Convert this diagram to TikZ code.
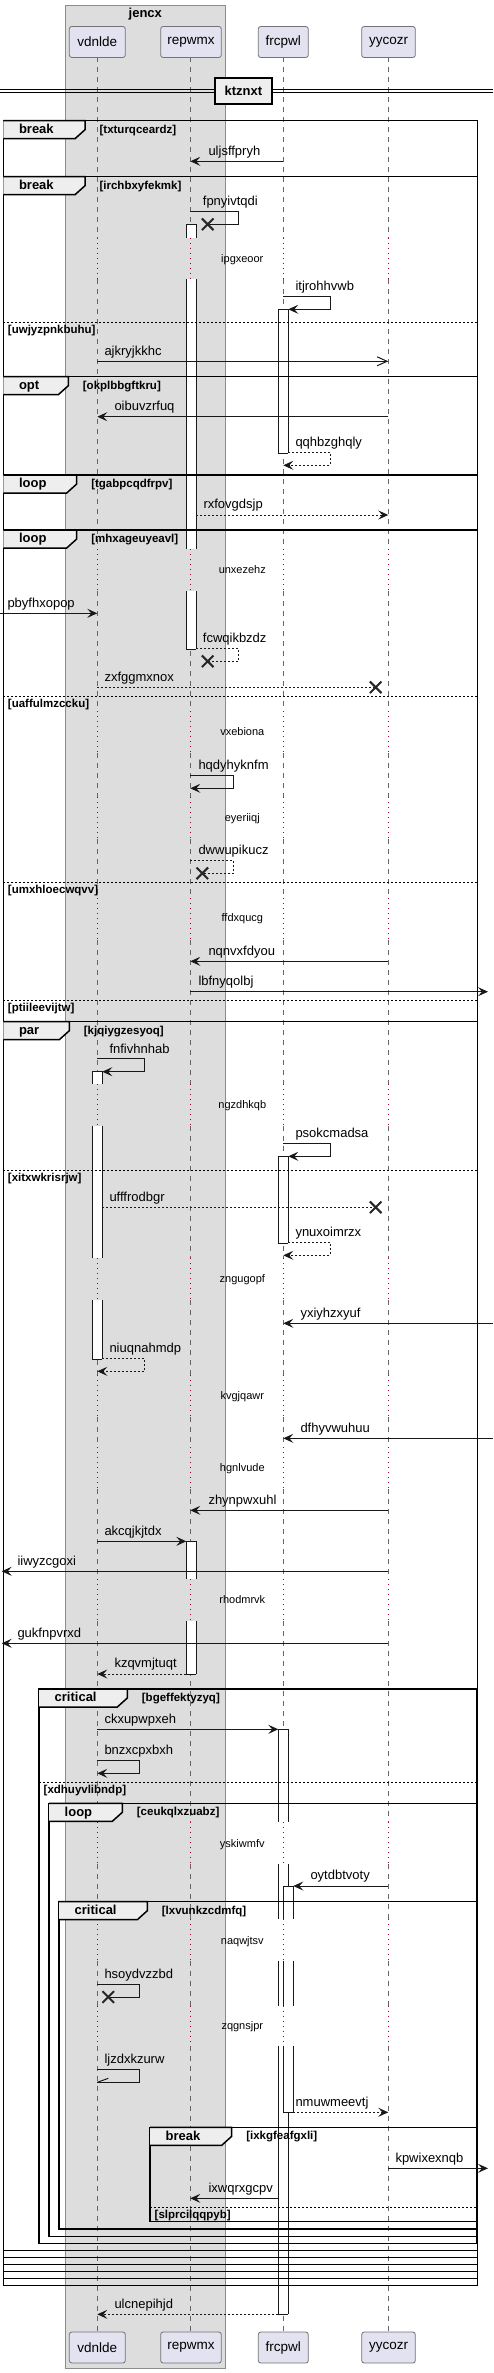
\documentclass[tikz,border=0pt]{standalone}
\usepackage{fontspec}
\setmainfont{Liberation Sans}
\usetikzlibrary{arrows.meta}
\definecolor{pfill}{HTML}{E2E2F0}
\definecolor{boxfill}{HTML}{DDDDDD}
\definecolor{tabfill}{HTML}{EEEEEE}
\definecolor{lc}{HTML}{181818}
\definecolor{dly}{HTML}{A80036}
\tikzset{
 pbox/.style={draw=black!55, line width=0.8pt, fill=pfill, rounded corners=2.5pt, inner sep=0pt, font=\fontsize{13.5}{16}\selectfont, minimum height=31pt},
 life/.style={draw=black!60, line width=0.8pt, dash pattern=on 5pt off 5pt},
 dlife/.style={draw=dly, line width=1pt, dash pattern=on 1pt off 4pt},
 actline/.style={draw=lc, line width=1pt},
 msglbl/.style={anchor=west, inner sep=0pt, font=\fontsize{13}{15}\selectfont, text height=9.5pt, text depth=2.7pt},
 dlbl/.style={inner sep=0pt, font=\fontsize{11}{13}\selectfont, text height=8pt, text depth=2.2pt},
 flbl/.style={anchor=west, inner sep=0pt, font=\bfseries\fontsize{13}{15}\selectfont, text height=9.5pt, text depth=2.7pt},
 glbl/.style={anchor=west, inner sep=0pt, font=\bfseries\fontsize{11.5}{13}\selectfont, text height=8.5pt, text depth=2.4pt},
 frm/.style={draw=black, line width=1.5pt},
 sepline/.style={draw=black, line width=1pt, dash pattern=on 2pt off 2pt},
 tabst/.style={draw=black, line width=1.5pt, fill=tabfill},
 sarr/.style={draw=lc, line width=1pt, -{Stealth[length=10pt,width=9pt,inset=4pt]}},
 darr/.style={sarr, dash pattern=on 2pt off 2pt},
 oarr/.style={draw=lc, line width=1pt, -{Straight Barb[length=10pt,width=9pt]}},
 sln/.style={draw=lc, line width=1pt},
 dln/.style={sln, dash pattern=on 2pt off 2pt},
 xmk/.style={draw=black!85, line width=2pt},
}
\newcommand{\Msg}[7]{%
  \coordinate (#1s) at (#2,#4);
  \coordinate (#1e) at (#3,#4);
  \draw[#5] (#1s) -- (#1e);
  \node[msglbl] (#1l) at (#6,#4-9.6) {#7};}
\newcommand{\SelfMsg}[8]{%
  \coordinate (#1s) at (#2,#4);
  \coordinate (#1e) at (#5,#4+13);
  \draw[#6] (#1s) -- (#3,#4) -- (#3,#4+13) -- (#1e);
  \node[msglbl] (#1l) at (#7,#4-9) {#8};}
\newcommand{\Xmk}[2]{\draw[xmk] (#1-5.8,#2-5.8) -- (#1+5.8,#2+5.8) (#1-5.8,#2+5.8) -- (#1+5.8,#2-5.8);}
\newcommand{\Act}[5]{%
  \fill[white] (#1,#2) rectangle (#1+10,#3);
  \draw[actline] (#1,#2) -- (#1,#3) (#1+10,#2) -- (#1+10,#3);
  \ifnum#4=1 \draw[actline] (#1,#2) -- (#1+10,#2);\fi
  \ifnum#5=1 \draw[actline] (#1,#3) -- (#1+10,#3);\fi}
\newcommand{\FrameTab}[6]{%
  \draw[tabst] (#2,#3) -- (#4,#3) -- (#4,#3+9) -- (#4-10,#3+18) -- (#2,#3+18);
  \node[flbl] (#1a) at (#2+15.5,#3+9.5) {#5};
  \node[glbl] (#1b) at (#4+14.4,#3+9.3) {#6};}
\newcommand{\SepLine}[5]{%
  \draw[sepline] (#2,#4) -- (#3,#4);
  \node[glbl] (#1) at (#2+4.5,#4+8) {#5};}
\begin{document}
\begin{tikzpicture}[x=1pt,y=-1pt]
\useasboundingbox (0,0) rectangle (493,2373);
\fill[white] (0,0) rectangle (493,2373);
% group box
\draw[fill=boxfill, draw=black!45, line width=1pt] (65.3,6) rectangle (225.3,2368.3);
\node[inner sep=0pt, font=\bfseries\fontsize{13}{15}\selectfont, text height=9.5pt, text depth=2.7pt] (jt) at (145.3,13.7) {jencx};
% lifelines
\foreach \lx in {97.3,190.3,283.3,388.3} {
  \foreach \ya/\yb in {57.3/237.7, 279/549.3, 591/711.3, 753.3/797.3, 839.3/898, 940/1084.3, 1125.7/1258.3, 1300/1375.3, 1417.3/1447.3, 1489.3/1579.3, 1621/1822.3, 1864.3/1919.3, 1960.7/2005.7, 2045.7/2331.7}
    \draw[life] (\lx,\ya) -- (\lx,\yb);
  \foreach \ya/\yb in {237.7/279, 549.3/591, 711.3/753.3, 797.3/839.3, 898/940, 1084.3/1125.7, 1258.3/1300, 1375.3/1417.3, 1447.3/1489.3, 1579.3/1621, 1822.3/1864.3, 1919.3/1960.7, 2005.7/2045.7}
    \draw[dlife] (\lx,\ya) -- (\lx,\yb);
}
% divider
\draw[line width=1pt] (0,90) -- (493,90) (0,92.7) -- (493,92.7);
\node[draw=black, line width=2pt, fill=tabfill, minimum width=56.7pt, minimum height=25.7pt, inner sep=0pt, font=\bfseries\fontsize{13}{15}\selectfont] (dv) at (243.3,91.2) {ktznxt};
% activations
\Act{186.3}{224.3}{237.7}{1}{0}
\Act{186.3}{279}{549.3}{0}{0}
\Act{186.3}{591}{649.3}{0}{1}
\Act{186.3}{1541.3}{1579.3}{1}{0}
\Act{186.3}{1621}{1674}{0}{1}
\Act{278.3}{309.3}{453.3}{1}{1}
\Act{278.3}{1156.3}{1243.3}{1}{1}
\Act{278.3}{1729.3}{1822.3}{1}{0}
\Act{278.3}{1864.3}{1919.3}{0}{0}
\Act{278.3}{1960.7}{2005.7}{0}{0}
\Act{278.3}{2045.7}{2314.3}{0}{1}
\Act{283.3}{1886}{1919.3}{1}{0}
\Act{283.3}{1960.7}{2005.7}{0}{0}
\Act{283.3}{2045.7}{2112.3}{0}{1}
\Act{92.3}{1071.3}{1084.3}{1}{0}
\Act{92.3}{1125.7}{1258.3}{0}{0}
\Act{92.3}{1300}{1359.3}{0}{1}
% frames
\draw[frm] (3.3,120.7) rectangle (477.7,2285.7);
\draw[frm] (3.3,176.7) rectangle (477.7,2278.7);
\draw[frm] (3.3,376.7) rectangle (477.7,2271.7);
\draw[frm] (3.3,475) rectangle (477.7,2264.7);
\draw[frm] (3.3,530) rectangle (477.7,2257.7);
\draw[frm] (3.3,1021.7) rectangle (477.7,2250.7);
\draw[frm] (39,1689) rectangle (476.7,2243.3);
\draw[frm] (49,1803.3) rectangle (476.7,2236.3);
\draw[frm] (59,1901.7) rectangle (476.7,2229);
\draw[frm] (150,2127.3) rectangle (476.7,2221.7);
\FrameTab{f1}{3.3}{120.7}{85}{break}{[txturqceardz]}
\FrameTab{f2}{3.3}{176.7}{85}{break}{[irchbxyfekmk]}
\FrameTab{f3}{3.3}{376.7}{68.3}{opt}{[okplbbgftkru]}
\FrameTab{f4}{3.3}{475}{76.7}{loop}{[tgabpcqdfrpv]}
\FrameTab{f5}{3.3}{530}{76.7}{loop}{[mhxageuyeavl]}
\FrameTab{f6}{3.3}{1021.7}{69.3}{par}{[kjqiygzesyoq]}
\FrameTab{f7}{39}{1689}{127.3}{critical}{[bgeffektyzyq]}
\FrameTab{f8}{49}{1803.3}{122.3}{loop}{[ceukqlxzuabz]}
\FrameTab{f9}{59}{1901.7}{147.3}{critical}{[lxvunkzcdmfq]}
\FrameTab{f10}{150}{2127.3}{231.7}{break}{[ixkgfeafgxli]}
\SepLine{s1}{3.3}{477.7}{322.7}{[uwjyzpnkbuhu]}
\SepLine{s2}{3.3}{477.7}{696}{[uaffulmzccku]}
\SepLine{s3}{3.3}{477.7}{882.3}{[umxhloecwqvv]}
\SepLine{s4}{3.3}{477.7}{1000.3}{[ptiileevijtw]}
\SepLine{s5}{3.3}{477.7}{1170.3}{[xitxwkrisrjw]}
\SepLine{s6}{39}{476.7}{1782.3}{[xdhuyvlibndp]}
\SepLine{s7}{150}{476.7}{2207.3}{[slprcilqqpyb]}
% messages
\Msg{m1}{283.3}{190.3}{161.3}{sarr}{208.3}{uljsffpryh}
\SelfMsg{m2}{190.3}{238.7}{211.3}{207.7}{sln}{202.7}{fpnyivtqdi}
\Xmk{207.7}{224.3}
\SelfMsg{m3}{283.3}{330.3}{296.3}{288.3}{sarr}{295.3}{itjrohhvwb}
\Msg{m4}{97.3}{388.3}{361.3}{oarr}{104.3}{ajkryjkkhc}
\Msg{m5}{388.3}{97.3}{416.7}{sarr}{114.3}{oibuvzrfuq}
\SelfMsg{m6}{288.3}{330.3}{452.3}{283.3}{darr}{295.3}{qqhbzghqly}
\Msg{m7}{196.3}{388.3}{515}{darr}{203.3}{rxfovgdsjp}
\Msg{m8}{0}{97.3}{613.3}{sarr}{7.3}{pbyfhxopop}
\SelfMsg{m9}{196.3}{238.7}{648.3}{207.7}{dln}{202.7}{fcwqikbzdz}
\Xmk{207.7}{661.3}
\Msg{m10}{97.3}{375.7}{687.3}{dln}{104.3}{zxfggmxnox}
\Xmk{375.7}{687.3}
\SelfMsg{m11}{190.3}{233.7}{775.3}{190.3}{sarr}{198.3}{hqdyhyknfm}
\SelfMsg{m12}{190.3}{233.7}{860.3}{202.3}{dln}{198.3}{dwwupikucz}
\Xmk{202.3}{873.3}
\Msg{m13}{388.3}{190.3}{961.3}{sarr}{208.3}{nqnvxfdyou}
\Msg{m14}{190.3}{488}{991.7}{sarr}{198.3}{lbfnyqolbj}
\SelfMsg{m15}{97.3}{144.7}{1058.7}{102.3}{sarr}{109.3}{fnfivhnhab}
\SelfMsg{m16}{283.3}{330.3}{1143.3}{288.3}{sarr}{295.3}{psokcmadsa}
\Msg{m17}{102.3}{375.7}{1207.3}{dln}{109.3}{ufffrodbgr}
\Xmk{375.7}{1207.3}
\SelfMsg{m18}{288.3}{330.3}{1242.3}{283.3}{darr}{295.3}{ynuxoimrzx}
\Msg{m19}{493}{283.3}{1323.3}{sarr}{300.3}{yxiyhzxyuf}
\SelfMsg{m20}{102.3}{144.7}{1358.3}{97.3}{darr}{109.3}{niuqnahmdp}
\Msg{m21}{493}{283.3}{1438.3}{sarr}{300.3}{dfhyvwuhuu}
\Msg{m22}{388.3}{190.3}{1510.3}{sarr}{208.3}{zhynpwxuhl}
\Msg{m23}{97.3}{186.3}{1541.3}{sarr}{104.3}{akcqjkjtdx}
\Msg{m24}{388.3}{1.7}{1571.3}{sarr}{17.3}{iiwyzcgoxi}
\Msg{m25}{388.3}{1.7}{1643.3}{sarr}{17.3}{gukfnpvrxd}
\Msg{m26}{186.3}{97.3}{1674}{darr}{114.3}{kzqvmjtuqt}
\Msg{m27}{97.3}{278.3}{1729.3}{sarr}{104.3}{ckxupwpxeh}
\SelfMsg{m28}{97.3}{139.3}{1760.3}{97.3}{sarr}{104.3}{bnzxcpxbxh}
\Msg{m29}{388.3}{293.3}{1886}{sarr}{310.3}{oytdbtvoty}
\SelfMsg{m30}{97.3}{139.3}{1984}{108.3}{sln}{104.3}{hsoydvzzbd}
\Xmk{108.3}{1997}
\SelfMsg{m31}{97.3}{139.3}{2069.3}{97.3}{sln}{104.3}{ljzdxkzurw}
\draw[sln] (m31e) -- ++(11,-4);
\Msg{m32}{293.3}{388.3}{2112.3}{darr}{295.3}{nmuwmeevtj}
\Msg{m33}{388.3}{488}{2168.3}{sarr}{395.3}{kpwixexnqb}
\Msg{m34}{278.3}{190.3}{2198.3}{sarr}{208.3}{ixwqrxgcpv}
\Msg{m35}{278.3}{97.3}{2314.3}{darr}{114.3}{ulcnepihjd}
% delays
\node[dlbl] (d1) at (242.3,259.3) {ipgxeoor};
\node[dlbl] (d2) at (242.3,571) {unxezehz};
\node[dlbl] (d3) at (242.3,732.3) {vxebiona};
\node[dlbl] (d4) at (242.3,818.3) {eyeriiqj};
\node[dlbl] (d5) at (242.3,919) {ffdxqucg};
\node[dlbl] (d6) at (242.3,1106) {ngzdhkqb};
\node[dlbl] (d7) at (242.3,1280) {zngugopf};
\node[dlbl] (d8) at (242.3,1396.3) {kvgjqawr};
\node[dlbl] (d9) at (242.3,1468.3) {hgnlvude};
\node[dlbl] (d10) at (242.3,1601) {rhodmrvk};
\node[dlbl] (d11) at (242.3,1844.3) {yskiwmfv};
\node[dlbl] (d12) at (242.3,1941.3) {naqwjtsv};
\node[dlbl] (d13) at (242.3,2026.7) {zqgnsjpr};
% participants
\node[pbox, minimum width=56pt] (vt) at (97.3,42) {vdnlde};
\node[pbox, minimum width=60.6pt] (rt) at (191,42) {repwmx};
\node[pbox, minimum width=50pt] (ft) at (283.3,42) {frcpwl};
\node[pbox, minimum width=53.6pt] (yt) at (388.5,42) {yycozr};
\node[pbox, minimum width=56pt] (vb) at (97.3,2347.5) {vdnlde};
\node[pbox, minimum width=60.6pt] (rb) at (191,2347.5) {repwmx};
\node[pbox, minimum width=50pt] (fb) at (283.3,2347.5) {frcpwl};
\node[pbox, minimum width=53.6pt] (yb) at (388.5,2347.5) {yycozr};
\end{tikzpicture}
\end{document}
